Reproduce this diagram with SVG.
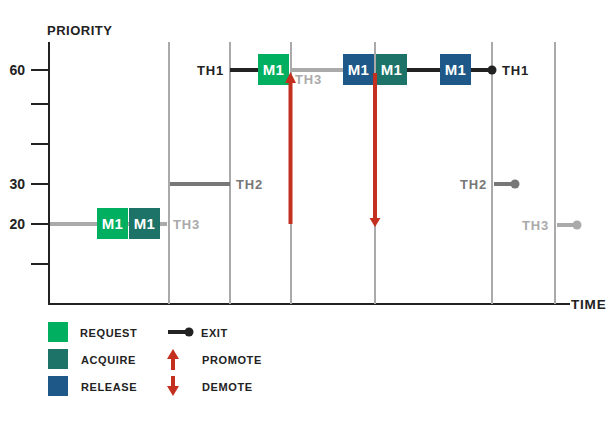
<svg xmlns="http://www.w3.org/2000/svg" width="610" height="426" viewBox="0 0 610 426">
<style>
  text { font-family: "Liberation Sans", Arial, sans-serif; font-weight: bold; }
  .axis { stroke: #222; stroke-width: 2; fill: none; }
  .grid { stroke: #aaa; stroke-width: 2; }
  .th1 { stroke: #222; stroke-width: 4; }
  .th2 { stroke: #777; stroke-width: 4; }
  .th3 { stroke: #aaa; stroke-width: 4; }
  .tick { font-size: 14px; fill: #222; text-anchor: end; }
  .lbl { font-size: 13px; letter-spacing: 0.8px; }
  .m1 { font-size: 15px; fill: #fff; text-anchor: middle; letter-spacing: 0.3px; }
  .req { fill: #00B060; }
  .acq { fill: #1E7368; }
  .rel { fill: #1D5889; }
  .red { fill: #C3301F; }
  .redl { stroke: #C3301F; stroke-width: 4; }
  .leg { font-size: 11px; fill: #222; letter-spacing: 0.6px; }
</style>
<rect width="610" height="426" fill="#fff"/>
<g id="axes">
  <text x="47" y="35" font-size="13" fill="#222" letter-spacing="0.5">PRIORITY</text>
  <line class="axis" x1="49" y1="42" x2="49" y2="305"/>
  <line class="axis" x1="48" y1="304" x2="570" y2="304"/>
  <text x="571" y="309" font-size="13.5" fill="#222" letter-spacing="0.8">TIME</text>
  <g class="axis">
    <line x1="31" y1="70" x2="49" y2="70"/>
    <line x1="31" y1="104" x2="49" y2="104"/>
    <line x1="31" y1="144" x2="49" y2="144"/>
    <line x1="31" y1="184" x2="49" y2="184"/>
    <line x1="31" y1="224" x2="49" y2="224"/>
    <line x1="31" y1="264" x2="49" y2="264"/>
  </g>
  <text class="tick" x="25" y="75">60</text>
  <text class="tick" x="25" y="189">30</text>
  <text class="tick" x="25" y="229">20</text>
</g>
<g id="grid" class="grid">
  <line x1="169" y1="42" x2="169" y2="304"/>
  <line x1="230" y1="42" x2="230" y2="304"/>
  <line x1="291" y1="42" x2="291" y2="304"/>
  <line x1="375" y1="42" x2="375" y2="304"/>
  <line x1="492" y1="42" x2="492" y2="304"/>
  <line x1="555" y1="42" x2="555" y2="304"/>
</g>
<g id="threads">
  <line class="th3" x1="50" y1="224" x2="167" y2="224"/>
  <text class="lbl" x="173" y="229" fill="#aaa">TH3</text>
  <line class="th2" x1="170" y1="184" x2="230" y2="184"/>
  <text class="lbl" x="236" y="189" fill="#777">TH2</text>
  <text class="lbl" x="224" y="75" fill="#222" text-anchor="end">TH1</text>
  <line class="th1" x1="230" y1="70" x2="258" y2="70"/>
  <line class="th3" x1="291" y1="70" x2="343" y2="70"/>
  <text class="lbl" x="295" y="84" fill="#aaa">TH3</text>
  <line class="th1" x1="407" y1="70" x2="440" y2="70"/>
  <line class="th1" x1="471" y1="70" x2="492" y2="70"/>
  <circle cx="492" cy="70" r="4.5" fill="#222"/>
  <text class="lbl" x="502" y="75" fill="#222">TH1</text>
  <text class="lbl" x="487" y="189" fill="#777" text-anchor="end">TH2</text>
  <line class="th2" x1="494" y1="184" x2="515" y2="184"/>
  <circle cx="515" cy="184" r="4.5" fill="#777"/>
  <text class="lbl" x="549" y="230" fill="#aaa" text-anchor="end">TH3</text>
  <line class="th3" x1="557" y1="225" x2="577" y2="225"/>
  <circle cx="577" cy="225" r="4.5" fill="#aaa"/>
</g>
<g id="node-req1"><rect class="req" x="97" y="208" width="31" height="31"/><text class="m1" x="112.5" y="229">M1</text></g>
<g id="node-acq1"><rect class="acq" x="129" y="208" width="31" height="31"/><text class="m1" x="144.5" y="229">M1</text></g>
<g id="node-req2"><rect class="req" x="258" y="54" width="31" height="31"/><text class="m1" x="273.5" y="75">M1</text></g>
<g id="node-rel1"><rect class="rel" x="343" y="54" width="31" height="31"/><text class="m1" x="358.5" y="75">M1</text></g>
<g id="node-acq2"><rect class="acq" x="376" y="54" width="31" height="31"/><text class="m1" x="391.5" y="75">M1</text></g>
<g id="node-rel2"><rect class="rel" x="440" y="54" width="31" height="31"/><text class="m1" x="455.5" y="75">M1</text></g>
<g id="connectors">
  <line class="redl" x1="290.5" y1="224" x2="290.5" y2="81"/>
  <polygon class="red" points="290.5,72 296,83 285,83"/>
  <line class="redl" x1="375" y1="73" x2="375" y2="219"/>
  <polygon class="red" points="375,227 380.5,218 369.5,218"/>
</g>
<g id="legend">
  <rect class="req" x="48" y="322" width="20" height="20"/>
  <text class="leg" x="80" y="337">REQUEST</text>
  <rect class="acq" x="48" y="349" width="20" height="20"/>
  <text class="leg" x="81" y="364">ACQUIRE</text>
  <rect class="rel" x="48" y="376" width="20" height="20"/>
  <text class="leg" x="81" y="391">RELEASE</text>
  <line class="th1" x1="168" y1="332" x2="189" y2="332"/>
  <circle cx="189" cy="332" r="4.5" fill="#222"/>
  <text class="leg" x="201" y="337">EXIT</text>
  <line class="redl" x1="173" y1="357" x2="173" y2="370"/>
  <polygon class="red" points="173,349 179,359 167,359"/>
  <text class="leg" x="202" y="364">PROMOTE</text>
  <line class="redl" x1="173" y1="376" x2="173" y2="388"/>
  <polygon class="red" points="173,396 179,386 167,386"/>
  <text class="leg" x="202" y="391">DEMOTE</text>
</g>
</svg>
